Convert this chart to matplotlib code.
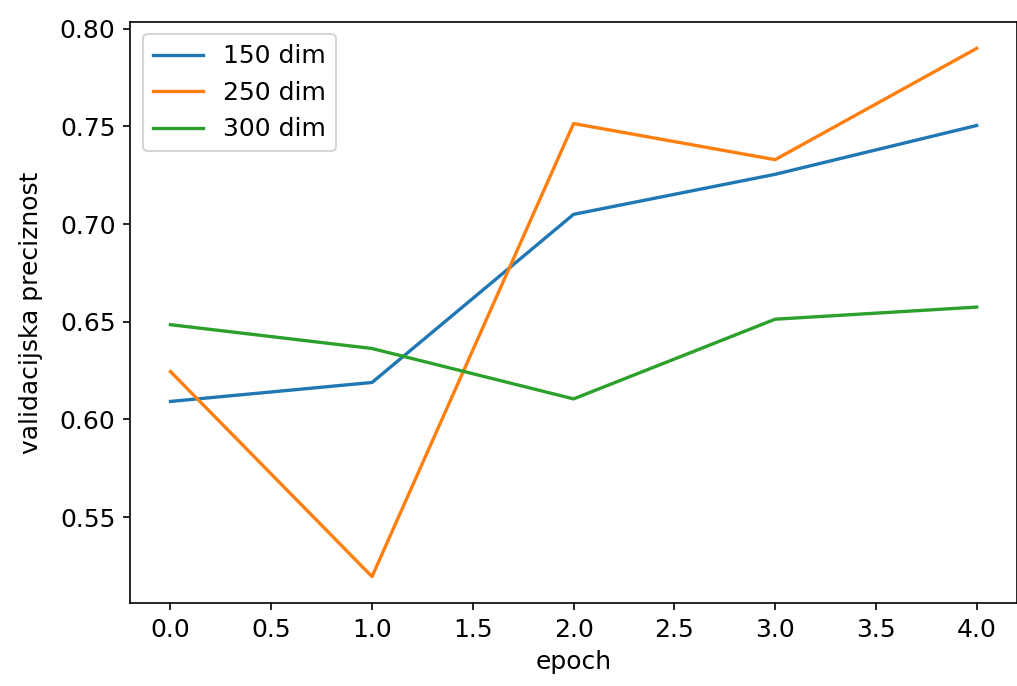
import numpy as np
import matplotlib.pyplot as plt

epochs = [0, 1, 2, 3, 4]
acc_150 = [0.6092, 0.6189, 0.7050, 0.7255, 0.7505]
acc_250 = [0.6245, 0.5195, 0.7515, 0.7330, 0.7900]
acc_300 = [0.6485, 0.6363, 0.6105, 0.6513, 0.6575]
labels = ["150 dim", "250 dim", "300 dim"]

plt.rcParams['font.size'] = 12
plt.rcParams['lines.linewidth'] = 1.6

fig = plt.figure(figsize=(1017/150, 686/150), dpi=150)
ax = fig.add_axes([0.128, 0.121, 0.872, 0.847])

ax.plot(epochs, acc_150, label=labels[0])
ax.plot(epochs, acc_250, label=labels[1])
ax.plot(epochs, acc_300, label=labels[2])

ax.set_xlabel("epoch")
ax.set_ylabel("validacijska preciznost", labelpad=8)
ax.legend(loc="upper left")

fig.savefig("out.png", dpi=150)
